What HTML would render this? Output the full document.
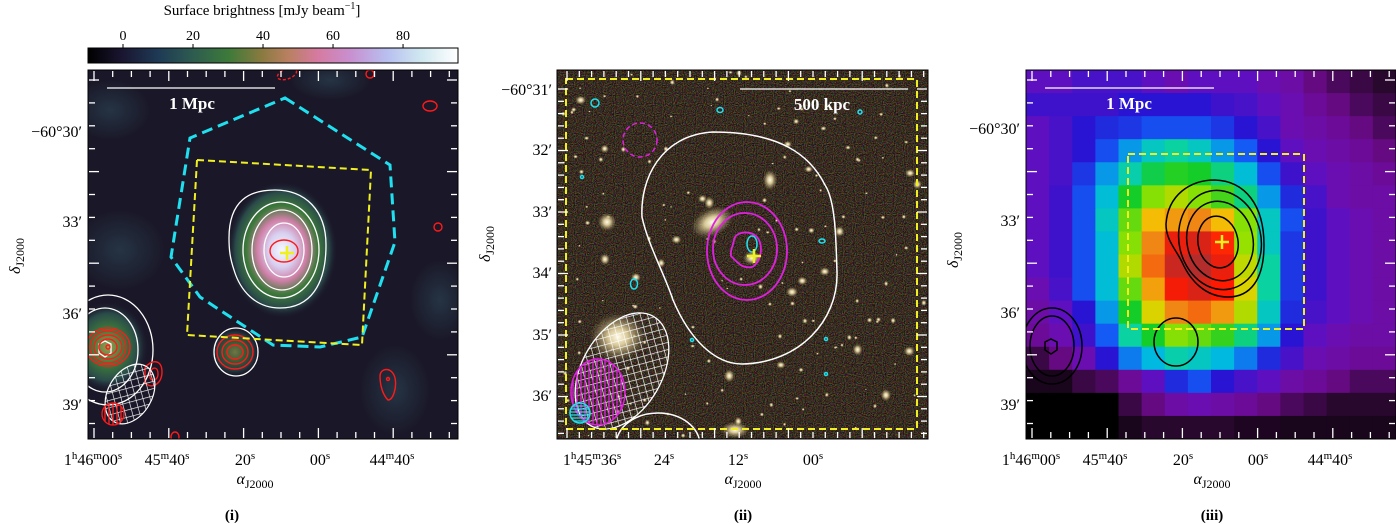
<!DOCTYPE html>
<html><head><meta charset="utf-8"><style>
body{margin:0;background:#fff;width:1396px;height:524px;overflow:hidden}
svg{display:block;font-family:"Liberation Serif",serif}
</style></head><body>
<svg id="fig" width="1396" height="524" viewBox="0 0 1396 524" xmlns="http://www.w3.org/2000/svg">
<defs>
<linearGradient id="cbar" x1="0" x2="1" y1="0" y2="0">
<stop offset="0" stop-color="#000"/><stop offset="0.09" stop-color="#1a1530"/><stop offset="0.19" stop-color="#1e3a55"/>
<stop offset="0.28" stop-color="#2d5a50"/><stop offset="0.38" stop-color="#3d7a3a"/><stop offset="0.47" stop-color="#8a7a40"/>
<stop offset="0.54" stop-color="#b88060"/><stop offset="0.62" stop-color="#d67aa0"/><stop offset="0.71" stop-color="#c890d0"/>
<stop offset="0.81" stop-color="#b8c0f0"/><stop offset="0.9" stop-color="#d0e8f0"/><stop offset="1" stop-color="#fff"/>
</linearGradient>
<radialGradient id="src1" cx="0.5" cy="0.5" r="0.5">
<stop offset="0" stop-color="#f4f8ff"/><stop offset="0.25" stop-color="#d8d0f0"/><stop offset="0.45" stop-color="#d080a8"/>
<stop offset="0.65" stop-color="#3d7a3a"/><stop offset="0.85" stop-color="#2a4a4a"/><stop offset="1" stop-color="#1c1a2e" stop-opacity="0"/>
</radialGradient>
<radialGradient id="src2" cx="0.5" cy="0.5" r="0.5">
<stop offset="0" stop-color="#9a9a50"/><stop offset="0.4" stop-color="#3d7a3a"/><stop offset="0.75" stop-color="#2a4a4a"/><stop offset="1" stop-color="#1c1a2e" stop-opacity="0"/>
</radialGradient>
<radialGradient id="blob" cx="0.5" cy="0.5" r="0.5">
<stop offset="0" stop-color="#2a4050" stop-opacity="0.7"/><stop offset="1" stop-color="#2a4050" stop-opacity="0"/>
</radialGradient>
<radialGradient id="gal" cx="0.5" cy="0.5" r="0.5">
<stop offset="0" stop-color="#fffbe8"/><stop offset="0.35" stop-color="#d8c898"/><stop offset="1" stop-color="#a09060" stop-opacity="0"/>
</radialGradient>
<filter id="noise" x="0" y="0" width="100%" height="100%">
<feTurbulence type="fractalNoise" baseFrequency="0.9" numOctaves="1" seed="3"/>
<feColorMatrix type="matrix" values="1.2 0 0 0 -0.5  0 1.1 0 0 -0.5  0 0 1.0 0 -0.5  0 0 0 0 0.9"/>
</filter>
<pattern id="hatchW" width="7" height="7" patternUnits="userSpaceOnUse" patternTransform="rotate(45)">
<path d="M0 0V7M0 0H7" stroke="#fff" stroke-width="1.3"/></pattern>
<pattern id="hatchM" width="4" height="4" patternUnits="userSpaceOnUse"><path d="M1 0V4" stroke="#e020e0" stroke-width="1.3"/></pattern>
<pattern id="hatchC" width="3" height="3" patternUnits="userSpaceOnUse"><path d="M0 1H3" stroke="#20e0f0" stroke-width="1.2"/></pattern>
<pattern id="hatchR" width="4" height="4" patternUnits="userSpaceOnUse"><path d="M1 0V4" stroke="#ff2020" stroke-width="1.3"/></pattern>
<clipPath id="c1"><rect x="88" y="70" width="370" height="369"/></clipPath>
<clipPath id="c2"><rect x="557" y="70" width="371" height="369"/></clipPath>
<clipPath id="c3"><rect x="1026" y="70" width="370" height="369"/></clipPath>
</defs>

<!-- ========== PANEL (i) ========== -->
<g>
<text x="262" y="15" font-size="15" text-anchor="middle">Surface brightness [mJy beam<tspan dy="-6" font-size="10">−1</tspan><tspan dy="6">]</tspan></text>
<rect x="88" y="48" width="370" height="15" fill="url(#cbar)" stroke="#000" stroke-width="1"/>
<g id="cbticks" font-size="14" text-anchor="middle"></g>
<g clip-path="url(#c1)">
<rect x="88" y="70" width="370" height="369" fill="#1a1828"/>
<ellipse cx="120" cy="250" rx="45" ry="40" fill="url(#blob)"/>
<ellipse cx="395" cy="390" rx="35" ry="45" fill="url(#blob)"/>
<ellipse cx="110" cy="110" rx="40" ry="30" fill="url(#blob)"/>
<ellipse cx="330" cy="80" rx="40" ry="20" fill="url(#blob)"/>
<ellipse cx="440" cy="300" rx="30" ry="40" fill="url(#blob)"/>
<ellipse cx="282" cy="250" rx="55" ry="68" fill="url(#src1)"/>
<ellipse cx="108" cy="347" rx="40" ry="45" fill="url(#src2)"/>
<ellipse cx="235" cy="352" rx="25" ry="25" fill="url(#src2)" opacity="0.7"/>
<g fill="none" stroke="#fff" stroke-width="1.3">
<path d="M229 238 C229 200 250 190 275 190 C305 190 326 210 326 245 C326 285 310 308 280 308 C255 308 240 290 234 270 C230 258 229 250 229 238Z"/>
<ellipse cx="281" cy="250" rx="38" ry="48"/>
<ellipse cx="282" cy="250" rx="30" ry="40"/>
<ellipse cx="284" cy="250" rx="20" ry="27"/>
<ellipse cx="108" cy="350" rx="45" ry="55"/>
<ellipse cx="105" cy="350" rx="33" ry="42"/>
<ellipse cx="236" cy="352" rx="22" ry="24"/>
<path d="M105 341 L111 344 L111 353 L105 357 L99 353 L99 344Z"/>
</g>
<g fill="none" stroke="#ff1a1a" stroke-width="1.4">
<ellipse cx="284" cy="251" rx="14" ry="11"/>
<ellipse cx="108" cy="347" rx="22" ry="19"/><ellipse cx="108" cy="347" rx="18" ry="16"/><ellipse cx="108" cy="347" rx="14" ry="12"/><ellipse cx="108" cy="347" rx="9" ry="8"/><circle cx="108" cy="347" r="2"/>
<ellipse cx="235" cy="352" rx="18" ry="17"/><ellipse cx="235" cy="352" rx="13" ry="12"/><ellipse cx="235" cy="352" rx="8" ry="7"/>
<path d="M145 368 C150 360 162 358 162 372 C162 385 150 390 145 382Z"/><path d="M150 372 C153 366 158 367 158 374 C158 380 152 382 150 378Z"/>
<path d="M380 376 C380 368 392 366 395 378 C397 388 393 400 388 400 C383 395 380 386 380 376Z"/><circle cx="388" cy="379" r="1.5"/>
<ellipse cx="430" cy="106" rx="7" ry="5"/><circle cx="370" cy="74" r="4"/><circle cx="438" cy="227" r="4"/>
<ellipse cx="287" cy="74" rx="10" ry="5" transform="rotate(-20 287 74)" stroke-dasharray="3 2"/>
<ellipse cx="175" cy="437" rx="4" ry="5"/>
</g>
<ellipse cx="130" cy="394" rx="22" ry="32" transform="rotate(30 130 394)" fill="url(#hatchW)" stroke="#fff" stroke-width="1.2"/>
<circle cx="113" cy="414" r="11" fill="url(#hatchR)" stroke="#ff1a1a" stroke-width="1.3"/>
<polygon points="285,98 390,165 395,242 362,337 320,347 273,345 200,297 171,257 190,138" fill="none" stroke="#20e0f0" stroke-width="3" stroke-dasharray="11 6"/>
<polygon points="197,160 371,170 362,345 187,335" fill="none" stroke="#f0f020" stroke-width="2" stroke-dasharray="7 4"/>
<path d="M280 253H294M287 246V260" stroke="#f0f020" stroke-width="2.5"/>
<line x1="107" y1="88" x2="275" y2="88" stroke="#fff" stroke-width="1.3"/>
<text x="192" y="109" fill="#fff" font-size="17" font-weight="bold" text-anchor="middle">1 Mpc</text>
</g>
<rect x="88" y="70" width="370" height="369" fill="none" stroke="#000" stroke-width="1"/>
</g>

<!-- ========== PANEL (ii) ========== -->
<g>
<g clip-path="url(#c2)">
<rect x="557" y="70" width="371" height="369" fill="#26221e"/>
<rect x="557" y="70" width="371" height="369" filter="url(#noise)" opacity="0.5"/>
<g id="stars"></g>
<ellipse cx="712" cy="222" rx="22" ry="14" fill="url(#gal)" transform="rotate(-25 712 222)"/>
<ellipse cx="618" cy="337" rx="28" ry="24" fill="url(#gal)"/>
<ellipse cx="607" cy="222" rx="9" ry="9" fill="url(#gal)"/>
<ellipse cx="770" cy="180" rx="7" ry="10" fill="url(#gal)"/>
<ellipse cx="752" cy="258" rx="9" ry="7" fill="url(#gal)"/>
<ellipse cx="792" cy="292" rx="6" ry="5" fill="url(#gal)"/>
<ellipse cx="735" cy="430" rx="14" ry="8" fill="url(#gal)"/>
<path d="M713 132 C660 135 640 180 642 217 C648 245 665 275 673 300 C690 340 715 364 742 364 C800 363 838 320 837 273 C836 235 835 200 825 185 C810 155 780 132 713 132Z" fill="none" stroke="#fff" stroke-width="1.5"/>
<ellipse cx="658" cy="445" rx="42" ry="32" fill="none" stroke="#fff" stroke-width="1.5"/>
<g fill="none" stroke="#e020e0" stroke-width="1.8">
<ellipse cx="747" cy="251" rx="40" ry="49"/><ellipse cx="745" cy="249" rx="32" ry="36"/>
<path d="M734 240 C735 232 748 230 756 236 C764 243 762 262 752 267 C742 269 737 262 731 256 C730 250 733 246 734 240Z"/>
<circle cx="640" cy="140" r="17" stroke-dasharray="5 3" stroke-width="1.5"/>
</g>
<g fill="none" stroke="#20e0f0" stroke-width="1.5">
<ellipse cx="752" cy="244" rx="5" ry="8"/><ellipse cx="595" cy="103" rx="4" ry="4"/><ellipse cx="720" cy="110" rx="3" ry="2.5"/>
<ellipse cx="634" cy="284" rx="3.5" ry="5"/><ellipse cx="822" cy="241" rx="3" ry="2"/><circle cx="692" cy="340" r="1.5"/><circle cx="826" cy="339" r="1.5"/><circle cx="826" cy="374" r="1.5"/><circle cx="860" cy="112" r="2"/><circle cx="582" cy="177" r="1.5"/>
</g>
<ellipse cx="622" cy="371" rx="40" ry="63" transform="rotate(30 622 371)" fill="url(#hatchW)" stroke="#fff" stroke-width="1.3"/>
<ellipse cx="598" cy="392" rx="27" ry="33" fill="url(#hatchM)" stroke="#e020e0" stroke-width="1.5"/>
<circle cx="580" cy="413" r="10" fill="url(#hatchC)" stroke="#20e0f0" stroke-width="1.5"/>
<path d="M747 256H761M754 249V263" stroke="#f0f020" stroke-width="2.5"/>
<rect x="566" y="79" width="351" height="350" fill="none" stroke="#f0f020" stroke-width="2" stroke-dasharray="7 4"/>
<line x1="740" y1="89" x2="908" y2="89" stroke="#fff" stroke-width="1.3"/>
<text x="822" y="110" fill="#fff" font-size="17" font-weight="bold" text-anchor="middle">500 kpc</text>
</g>
<rect x="557" y="70" width="371" height="369" fill="none" stroke="#000" stroke-width="1"/>
</g>

<!-- ========== PANEL (iii) ========== -->
<g>
<g clip-path="url(#c3)">
<g id="heat"></g>
<g fill="none" stroke="#000" stroke-width="1.5">
<path d="M1166 224 C1168 195 1190 180 1215 180 C1245 181 1264 205 1264 245 C1264 280 1250 297 1228 297 C1205 297 1190 280 1182 262 C1175 248 1166 240 1166 224Z"/>
<ellipse cx="1220" cy="240" rx="41" ry="50" transform="rotate(-12 1220 240)"/>
<ellipse cx="1220" cy="241" rx="33" ry="40" transform="rotate(-12 1220 241)"/>
<ellipse cx="1218" cy="242" rx="20" ry="26" transform="rotate(-10 1218 242)"/>
<ellipse cx="1176" cy="342" rx="22" ry="24"/>
<ellipse cx="1052" cy="346" rx="30" ry="38"/><ellipse cx="1052" cy="346" rx="22" ry="30"/>
<path d="M1051 339 L1057 342 L1057 350 L1051 354 L1045 350 L1045 342Z"/>
</g>
<rect x="1128" y="154" width="176" height="175" fill="none" stroke="#f0f020" stroke-width="2" stroke-dasharray="7 4"/>
<path d="M1215 242H1229M1222 235V249" stroke="#f0f020" stroke-width="2.5"/>
<line x1="1045" y1="88" x2="1214" y2="88" stroke="#fff" stroke-width="1.3"/>
<text x="1129" y="109" fill="#fff" font-size="17" font-weight="bold" text-anchor="middle">1 Mpc</text>
</g>
<rect x="1026" y="70" width="370" height="369" fill="none" stroke="#000" stroke-width="1"/>
</g>

<g id="ticks" stroke="#fff" stroke-width="1.3"></g>

<!-- axis labels -->
<g font-size="16">
<g text-anchor="end">
<text x="82" y="137">−60°30′</text><text x="82" y="227">33′</text><text x="82" y="319">36′</text><text x="82" y="410">39′</text></g>
<g text-anchor="end">
<text x="552" y="95">−60°31′</text><text x="552" y="155">32′</text><text x="552" y="217">33′</text><text x="552" y="278">34′</text><text x="552" y="340">35′</text><text x="552" y="401">36′</text></g>
<g text-anchor="end">
<text x="1020" y="134">−60°30′</text><text x="1020" y="226">33′</text><text x="1020" y="318">36′</text><text x="1020" y="410">39′</text></g>
<g text-anchor="middle">
<text x="93" y="465">1<tspan font-size="11" dy="-6">h</tspan><tspan dy="6">46</tspan><tspan font-size="11" dy="-6">m</tspan><tspan dy="6">00</tspan><tspan font-size="11" dy="-6">s</tspan></text>
<text x="167" y="465">45<tspan font-size="11" dy="-6">m</tspan><tspan dy="6">40</tspan><tspan font-size="11" dy="-6">s</tspan></text>
<text x="245" y="465">20<tspan font-size="11" dy="-6">s</tspan></text>
<text x="320" y="465">00<tspan font-size="11" dy="-6">s</tspan></text>
<text x="392" y="465">44<tspan font-size="11" dy="-6">m</tspan><tspan dy="6">40</tspan><tspan font-size="11" dy="-6">s</tspan></text></g>
<g text-anchor="middle">
<text x="592" y="465">1<tspan font-size="11" dy="-6">h</tspan><tspan dy="6">45</tspan><tspan font-size="11" dy="-6">m</tspan><tspan dy="6">36</tspan><tspan font-size="11" dy="-6">s</tspan></text>
<text x="664" y="465">24<tspan font-size="11" dy="-6">s</tspan></text>
<text x="738" y="465">12<tspan font-size="11" dy="-6">s</tspan></text>
<text x="813" y="465">00<tspan font-size="11" dy="-6">s</tspan></text></g>
<g text-anchor="middle">
<text x="1031" y="465">1<tspan font-size="11" dy="-6">h</tspan><tspan dy="6">46</tspan><tspan font-size="11" dy="-6">m</tspan><tspan dy="6">00</tspan><tspan font-size="11" dy="-6">s</tspan></text>
<text x="1105" y="465">45<tspan font-size="11" dy="-6">m</tspan><tspan dy="6">40</tspan><tspan font-size="11" dy="-6">s</tspan></text>
<text x="1183" y="465">20<tspan font-size="11" dy="-6">s</tspan></text>
<text x="1258" y="465">00<tspan font-size="11" dy="-6">s</tspan></text>
<text x="1330" y="465">44<tspan font-size="11" dy="-6">m</tspan><tspan dy="6">40</tspan><tspan font-size="11" dy="-6">s</tspan></text></g>
<text x="255" y="484" text-anchor="middle" font-style="italic">α<tspan font-style="normal" font-size="12" dy="4">J2000</tspan></text>
<text x="743" y="484" text-anchor="middle" font-style="italic">α<tspan font-style="normal" font-size="12" dy="4">J2000</tspan></text>
<text x="1212" y="484" text-anchor="middle" font-style="italic">α<tspan font-style="normal" font-size="12" dy="4">J2000</tspan></text>
<text transform="translate(20 256) rotate(-90)" text-anchor="middle" font-style="italic">δ<tspan font-style="normal" font-size="12" dy="4">J2000</tspan></text>
<text transform="translate(490 244) rotate(-90)" text-anchor="middle" font-style="italic">δ<tspan font-style="normal" font-size="12" dy="4">J2000</tspan></text>
<text transform="translate(958 250) rotate(-90)" text-anchor="middle" font-style="italic">δ<tspan font-style="normal" font-size="12" dy="4">J2000</tspan></text>
<text x="232" y="520" text-anchor="middle" font-weight="bold" font-size="15">(i)</text>
<text x="743" y="520" text-anchor="middle" font-weight="bold" font-size="15">(ii)</text>
<text x="1212" y="520" text-anchor="middle" font-weight="bold" font-size="15">(iii)</text>
</g>
</svg>
<script>
const NS='http://www.w3.org/2000/svg';
const cbTicks=[0,20,40,60,80];
const cbMin=-10, cbMax=95.7;
const heatValues=[
[.25,.25,.27,.27,.27,.25,.22,.25,.25,.25,.22,.2,.15,.12,.1,.08],
[.28,.28,.28,.28,.3,.3,.3,.3,.28,.27,.25,.22,.18,.15,.12,.1],
[.25,.27,.3,.32,.33,.35,.35,.35,.33,.3,.27,.22,.2,.18,.15,.12],
[.25,.27,.3,.35,.4,.45,.48,.45,.4,.36,.3,.25,.22,.2,.18,.15],
[.25,.27,.33,.4,.47,.53,.56,.55,.5,.43,.35,.28,.25,.22,.2,.18],
[.25,.28,.35,.43,.55,.62,.65,.62,.58,.5,.4,.32,.27,.22,.2,.2],
[.25,.28,.35,.45,.6,.72,.76,.78,.72,.62,.45,.35,.28,.25,.22,.2],
[.25,.28,.35,.43,.62,.78,.9,.93,.85,.63,.45,.33,.28,.25,.22,.2],
[.25,.28,.35,.43,.65,.8,.96,1.0,.9,.66,.48,.33,.28,.25,.22,.2],
[.22,.27,.35,.43,.6,.75,.88,.93,.86,.68,.48,.33,.28,.25,.22,.2],
[.2,.25,.3,.4,.55,.68,.78,.8,.76,.65,.45,.32,.27,.25,.22,.2],
[.18,.22,.28,.36,.48,.55,.62,.6,.57,.5,.4,.3,.25,.22,.2,.2],
[.1,.15,.22,.3,.38,.42,.47,.45,.42,.38,.32,.27,.22,.2,.18,.18],
[.05,.05,.1,.12,.18,.25,.32,.35,.3,.27,.25,.2,.18,.15,.12,.12],
[0,0,0,0,.1,.15,.2,.22,.2,.18,.15,.12,.1,.08,.08,.08],
[0,0,0,0,.05,.08,.08,.08,.08,.06,.06,.05,.05,.05,.05,.05]];
const cmapStops=[[0,[0,0,0]],[0.08,[40,8,45]],[0.16,[110,10,140]],[0.24,[105,15,190]],[0.3,[40,20,210]],[0.36,[20,90,245]],[0.42,[0,185,225]],[0.48,[10,210,160]],[0.55,[20,205,40]],[0.63,[150,225,0]],[0.7,[245,205,0]],[0.78,[240,135,20]],[0.86,[255,25,0]],[1,[180,45,45]]];
function cmap(v){for(let i=1;i<cmapStops.length;i++){if(v<=cmapStops[i][0]){const a=cmapStops[i-1],b=cmapStops[i];const t=(v-a[0])/(b[0]-a[0]);return 'rgb('+a[1].map((c,k)=>Math.round(c+(b[1][k]-c)*t)).join(',')+')';}}return 'rgb(180,45,45)';}
const cbg=document.getElementById('cbticks');
const cbx=v=>88+(v-cbMin)/(cbMax-cbMin)*370;
cbTicks.forEach(v=>{const x=cbx(v);
const t=document.createElementNS(NS,'text');t.setAttribute('x',x);t.setAttribute('y',40);t.textContent=v;


cbg.appendChild(t);
const l=document.createElementNS(NS,'line');l.setAttribute('x1',x);l.setAttribute('x2',x);l.setAttribute('y1',44);l.setAttribute('y2',48);l.setAttribute('stroke','#000');


cbg.appendChild(l);});
const hg=document.getElementById('heat');
const nR=heatValues.length,nC=heatValues[0].length,cw=370/nC,ch=369/nR;
heatValues.forEach((row,r)=>row.forEach((v,c)=>{const e=document.createElementNS(NS,'rect');
e.setAttribute('x',1026+c*cw);e.setAttribute('y',70+r*ch);e.setAttribute('width',cw+0.5);e.setAttribute('height',ch+0.5);e.setAttribute('fill',cmap(v));


hg.appendChild(e);}));
let seed=7;function rnd(){seed=(seed*16807)%2147483647;return seed/2147483647;}
const sg=document.getElementById('stars');
for(let i=0;i<160;i++){const e=document.createElementNS(NS,'ellipse');const s=rnd()<0.85?1+rnd()*1.8:2.5+rnd()*3;
e.setAttribute('cx',560+rnd()*366);e.setAttribute('cy',72+rnd()*365);e.setAttribute('rx',s);e.setAttribute('ry',s*(0.7+rnd()*0.5));e.setAttribute('fill','url(#gal)');sg.appendChild(e);}
const tg=document.getElementById('ticks');
function tk(x1,y1,x2,y2){const l=document.createElementNS(NS,'line');l.setAttribute('x1',x1);l.setAttribute('y1',y1);l.setAttribute('x2',x2);l.setAttribute('y2',y2);tg.appendChild(l);}
function panelTicks(x0,y0,w,h,xs,xstep,ys,ystep,majX,majY){
 for(let i=0,x=xs;x<x0+w;x+=xstep,i++){const L=(i%majX==0)?10:6;tk(x,y0+1,x,y0+1+L);tk(x,y0+h-1,x,y0+h-1-L);}
 for(let i=0,y=ys;y<y0+h;y+=ystep,i++){const L=(i%majY==0)?10:6;tk(x0+1,y,x0+1+L,y);tk(x0+w-1,y,x0+w-1-L,y);}
}
panelTicks(88,70,370,369,94,18.7,80,22.9,4,4);
panelTicks(557,70,371,369,567,12.3,89,12.3,6,5);
panelTicks(1026,70,370,369,1032,18.8,80,22.9,4,4);
</script>
</body></html>
